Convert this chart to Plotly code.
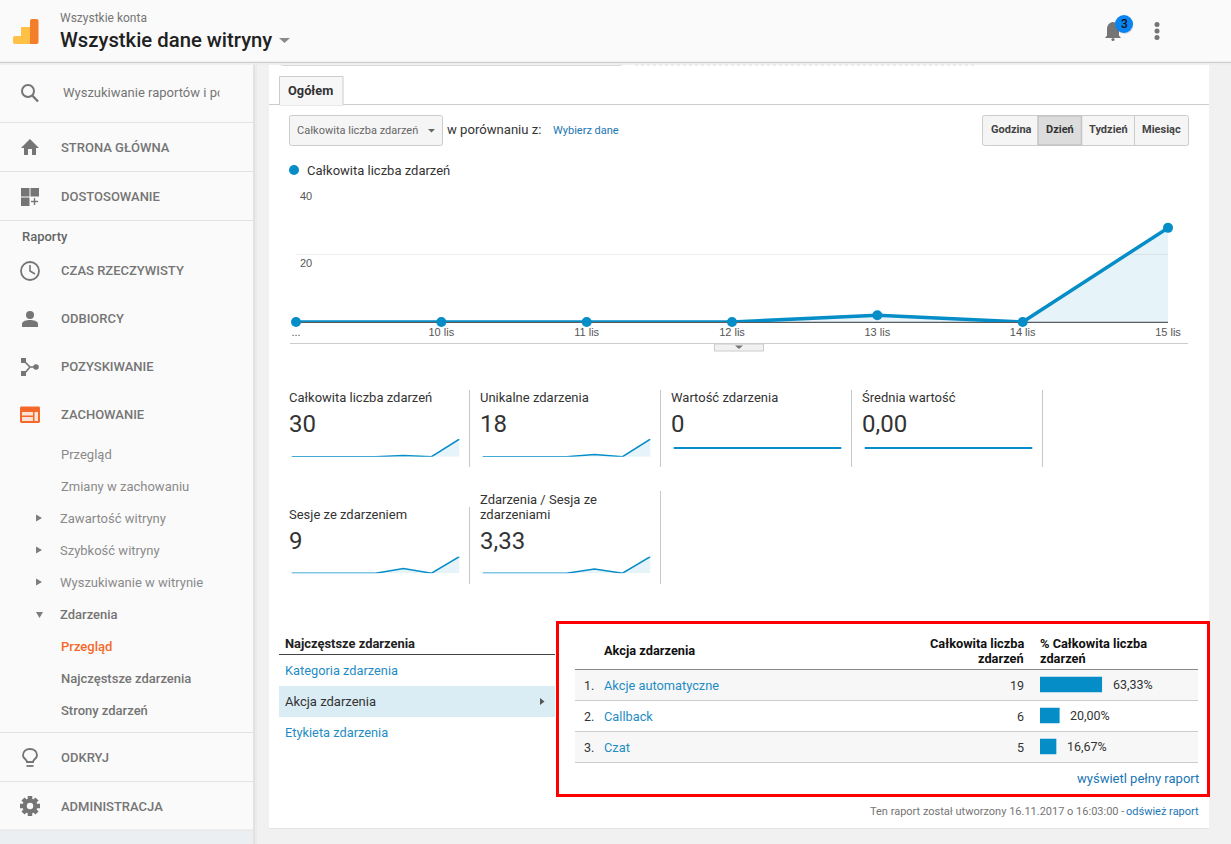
import plotly.graph_objects as go

W, H = 1231, 844

# chart data
dates = ["...", "10 lis", "11 lis", "12 lis", "13 lis", "14 lis", "15 lis"]
total_events = [0, 0, 0, 0, 2, 0, 28]
unique_events = [0, 0, 0, 0, 2, 0, 16]
event_value = [0, 0, 0, 0, 0, 0, 0]
average_value = [0, 0, 0, 0, 0, 0, 0]
sessions_with_event = [0, 0, 0, 0, 2, 0, 7]
events_per_session = [0, 0, 0, 0, 1, 0, 4]
y_ticks = [20, 40]

# table data
actions = ["Akcje automatyczne", "Callback", "Czat"]
action_counts = [19, 6, 5]
action_shares = [63.33, 20.00, 16.67]

# headline numbers
metric_names = [["Całkowita liczba zdarzeń"], ["Unikalne zdarzenia"], ["Wartość zdarzenia"], ["Średnia wartość"],
                ["Sesje ze zdarzeniem"], ["Zdarzenia / Sesja ze", "zdarzeniami"]]
metric_values = ["30", "18", "0", "0,00", "9", "3,33"]

BLUE = "#058dc7"
FILL = "rgba(5,141,199,0.10)"
LINK = "#1f8dc4"
GREY = "#757575"
ROBOTO = "Roboto, sans-serif"
ARIAL = "Liberation Sans, Arial, sans-serif"

shapes = []
annotations = []


def fx(x):
    return x / W


def fy(y):
    return 1 - y / H


def rect(x0, y0, x1, y1, fill, line=None, width=1):
    shapes.append(dict(type="rect", xref="paper", yref="paper", x0=fx(x0), x1=fx(x1), y0=fy(y0), y1=fy(y1),
                       fillcolor=fill, line=dict(color=line or "rgba(0,0,0,0)", width=width if line else 0),
                       layer="below"))


def line(x0, y0, x1, y1, color="#dddddd", width=1, dash=None):
    shapes.append(dict(type="line", xref="paper", yref="paper", x0=fx(x0), x1=fx(x1), y0=fy(y0), y1=fy(y1),
                       line=dict(color=color, width=width, dash=dash), layer="below"))


def circle(cx, cy, r, fill, line_color=None, width=0):
    shapes.append(dict(type="circle", xref="paper", yref="paper", x0=fx(cx - r), x1=fx(cx + r),
                       y0=fy(cy + r), y1=fy(cy - r), fillcolor=fill,
                       line=dict(color=line_color or "rgba(0,0,0,0)", width=width), layer="below"))


def path(d, fill="rgba(0,0,0,0)", line_color=None, width=0):
    # d is written in pixels, plotly wants paper fractions
    out = []
    is_x = True
    for tok in d.split():
        if tok.isalpha():
            out.append(tok)
        else:
            out.append(f"{fx(float(tok)):.5f}" if is_x else f"{fy(float(tok)):.5f}")
            is_x = not is_x
    shapes.append(dict(type="path", xref="paper", yref="paper", path=" ".join(out), fillcolor=fill,
                       line=dict(color=line_color or "rgba(0,0,0,0)", width=width), layer="below"))


def rrect(x0, y0, x1, y1, r, fill, line_color=None, width=0):
    path(f"M {x0+r} {y0} L {x1-r} {y0} Q {x1} {y0} {x1} {y0+r} L {x1} {y1-r} Q {x1} {y1} {x1-r} {y1} "
         f"L {x0+r} {y1} Q {x0} {y1} {x0} {y1-r} L {x0} {y0+r} Q {x0} {y0} {x0+r} {y0} Z",
         fill, line_color, width)


def label(x, y, text, size=13, color="#333333", anchor="left", weight=400, family=ROBOTO):
    annotations.append(dict(xref="paper", yref="paper", x=fx(x), y=fy(y), text=text, showarrow=False,
                            xanchor=anchor, yanchor="middle", borderpad=0, borderwidth=0, align=anchor,
                            font=dict(family=family, size=size, color=color, weight=weight)))


# backgrounds
rect(0, 0, W, H, "#f1f1f1")
rect(269, 60, 1209, 828, "#ffffff")
line(269, 828.5, 1209, 828.5, "#e4e4e4", 1)
rect(0, 0, 253, H, "#fafafa")
rect(253, 60, 255, H, "#e2e2e2")
rect(255, 60, 257, H, "#ebebeb")
rect(0, 830, 253, H, "#eceff1")
rrect(280, 58, 623, 65.5, 3, "#ffffff", "#d8d8d8", 1)
line(635, 65, 975, 65, "#d5d5d5", 1, "dot")
rect(0, 0, W, 62, "#fafafa")
line(0, 62.5, W, 62.5, "#cfcfcf", 1.5)
line(0, 64, W, 64, "#ececec", 1.5)

# header
path("M 13 38 Q 13 36 15 36 L 21 36 L 21 27 L 30 27 L 30 44 L 15 44 Q 13 44 13 42 Z", "#ffc046")
path("M 30 21 Q 30 19 32 19 L 36.5 19 Q 38.5 19 38.5 21 L 38.5 42 Q 38.5 44 36.5 44 L 30 44 Z", "#f57e2b")
label(60, 18, "Wszystkie konta", 12, GREY)
label(60, 40, "Wszystkie dane witryny", 20.3, "#212121", weight=500)
path("M 279 38 L 290 38 L 284.5 43 Z", "#8a8a8a")
path("M 1105 38 L 1107 35.5 L 1107 29 C 1107 25 1110 22 1113 22 C 1116 22 1119 25 1119 29 L 1119 35.5 L 1121 38 Z", GREY)
circle(1113, 39.5, 1.6, GREY)
circle(1124.5, 25, 9, "rgba(0,0,0,0.12)")
circle(1124, 24, 9, "#0a84f0")
label(1124, 23.5, "3", 12, "#111111", "center", 500)
for dot_y in [24.5, 31, 37.5]:
    circle(1157, dot_y, 2.5, GREY)

# sidebar
for sep_y in [122.5, 171.5, 220.5, 732.5, 781.5, 830]:
    line(0, sep_y, 253, sep_y, "#e3e3e3", 1)

circle(28, 91, 6, "rgba(0,0,0,0)", GREY, 2)
line(32.3, 95.5, 38, 101.5, GREY, 2.4)
label(63, 93, "Wyszukiwanie raportów i po", 13, GREY)
# the search box cuts its text off
annotations.append(dict(xref="paper", yref="paper", x=fx(219), y=fy(93), text=" ", showarrow=False, xanchor="left",
                        yanchor="middle", width=20, height=18, bgcolor="#fafafa", borderpad=0))

path("M 30 139 L 39 148 L 36 148 L 36 155 L 32 155 L 32 149 L 28 149 L 28 155 L 24 155 L 24 148 L 21 148 Z", GREY)
rect(21, 188, 29.5, 196.5, GREY)
rect(30.5, 188, 39, 196.5, GREY)
rect(21, 197.5, 29.5, 206, GREY)
line(31, 201.5, 38, 201.5, GREY, 1.4)
line(34.5, 198, 34.5, 205, GREY, 1.4)
circle(30, 271, 9, "rgba(0,0,0,0)", GREY, 1.8)
path("M 30 265 L 30 271 L 35 274", "rgba(0,0,0,0)", GREY, 1.6)
circle(30, 315, 4, GREY)
path("M 22 327 L 22 324 C 22 321 27 320 30 320 C 33 320 38 321 38 324 L 38 327 Z", GREY)
rect(21, 358, 26, 363, GREY)
rect(21, 371, 26, 376, GREY)
circle(36, 367, 2.8, GREY)
path("M 24 361 L 30 367 L 36 367 M 24 374 L 30 367", "rgba(0,0,0,0)", GREY, 1.7)
rrect(20, 406.5, 40, 423, 1.5, "#f4692a")
rect(22, 412, 33, 415.5, "#fbe3d6")
rect(22, 417, 33, 421, "#fbe3d6")
rect(34.5, 412, 38, 421, "#fbe3d6")
path("M 27 762 C 27 759.5 23 758.5 23 755.5 C 23 751.5 26 749 30 749 C 34 749 37 751.5 37 755.5 C 37 758.5 33 759.5 33 762 Z",
     "rgba(0,0,0,0)", GREY, 1.9)
line(26.5, 766, 33.5, 766, GREY, 1.8)
# gear: four crossed bars give the teeth
line(30, 796, 30, 816, GREY, 4.5)
line(20, 806, 40, 806, GREY, 4.5)
line(23, 799, 37, 813, GREY, 4.5)
line(23, 813, 37, 799, GREY, 4.5)
circle(30, 806, 7.5, GREY)
circle(30, 806, 3.2, "#fafafa")

for name, ty in [("STRONA GŁÓWNA", 147), ("DOSTOSOWANIE", 196), ("CZAS RZECZYWISTY", 270.5), ("ODBIORCY", 318),
                 ("POZYSKIWANIE", 366), ("ZACHOWANIE", 414), ("ODKRYJ", 757), ("ADMINISTRACJA", 806)]:
    label(61, ty, name, 13, GREY, weight=500)
label(22, 236, "Raporty", 13, "#666666", weight=500)
for name, tx, ty, col, wgt in [("Przegląd", 61, 454.5, "#8a8a8a", 400), ("Zmiany w zachowaniu", 61, 486, "#8a8a8a", 400),
                               ("Zawartość witryny", 60, 518, "#8a8a8a", 400), ("Szybkość witryny", 60, 550, "#8a8a8a", 400),
                               ("Wyszukiwanie w witrynie", 60, 582, "#8a8a8a", 400), ("Zdarzenia", 60, 614, GREY, 500),
                               ("Przegląd", 61, 646, "#f4692a", 500), ("Najczęstsze zdarzenia", 61, 678, GREY, 500),
                               ("Strony zdarzeń", 61, 710, GREY, 500)]:
    label(tx, ty, name, 13, col, weight=wgt)
for tri_y in [518, 550, 582]:
    path(f"M 36 {tri_y-3.5} L 42 {tri_y} L 36 {tri_y+3.5} Z", "#7d7d7d")
path("M 36 612 L 43 612 L 39.5 618 Z", "#7d7d7d")

# tab and controls
line(269, 104.5, 1209, 104.5, "#cccccc", 1)
rect(279.5, 76.5, 343, 105, "#f7f7f7", "#cccccc", 1)
line(280, 104.5, 342.5, 104.5, "#f7f7f7", 1.5)
label(288, 90.5, "Ogółem", 12.8, "#333333", weight=700)
rrect(289.5, 115.5, 442.5, 145.5, 2, "#f5f5f5", "#cccccc", 1)
label(297, 130.5, "Całkowita liczba zdarzeń", 11, "#666666")
path("M 428 129 L 435 129 L 431.5 132.5 Z", "#666666")
label(447, 129, "w porównaniu z:", 13.1, "#333333")
label(553, 130.5, "Wybierz dane", 11, "#1a76b4")

rrect(982.5, 115.5, 1188.5, 145.5, 2, "#f5f5f5", "#cccccc", 1)
rect(1038, 116, 1081.5, 145, "#dcdcdc", "#c4c4c4", 1.5)
for sep_x in [1134.5]:
    line(sep_x, 116, sep_x, 145, "#cccccc", 1)
for name, cx, col in [("Godzina", 1011, "#444444"), ("Dzień", 1060, "#333333"),
                      ("Tydzień", 1108, "#444444"), ("Miesiąc", 1161.5, "#444444")]:
    label(cx, 130, name, 11, col, "center", 700)

# legend
circle(294, 170, 5, BLUE)
label(307, 171, "Całkowita liczba zdarzeń", 13, "#333333")

# bottom rule of the chart and its handle
line(290, 343.5, 1188, 343.5, "#cccccc", 1)
rect(714.5, 344, 763.5, 351, "#f1f1f1", "#cccccc", 1)
path("M 735 345.5 L 743 345.5 L 739 349 Z", "#777777")

# baseline as a shape, the axis line would sit on top of the blue line
line(296, 322.3, 1168, 322.3, "#333333", 1)

fig = go.Figure()
x_idx = list(range(len(dates)))

# main line chart
fig.add_trace(go.Scatter(
    x=x_idx,
    y=total_events,
    mode="lines+markers",
    fill="tozeroy",
    fillcolor=FILL,
    line=dict(color=BLUE, width=3.5),
    marker=dict(size=10, color=BLUE),
    cliponaxis=False,
    hoverinfo="x+y",
    xaxis="x",
    yaxis="y",
))

axes = dict(
    xaxis=dict(domain=[fx(296), fx(1168)], range=[0, 6], anchor="y", tickmode="array", tickvals=x_idx,
               ticktext=dates, showgrid=False, zeroline=False, showline=False,
               ticks="", ticklabelstandoff=2,
               tickfont=dict(family=ARIAL, size=11, color="#555555"), tickangle=0, fixedrange=True),
    yaxis=dict(domain=[fy(322), fy(187.5)], range=[0, 40], anchor="x", tickmode="array", tickvals=y_ticks,
               showticklabels=False, showgrid=True, gridcolor="#eeeeee", gridwidth=1, zeroline=False,
               showline=False, fixedrange=True),
)
for tick in y_ticks:
    annotations.append(dict(xref="paper", yref="y", x=fx(298.5), y=tick, yshift=-8.5, text=str(tick), showarrow=False,
                            xanchor="left", yanchor="middle", borderpad=0,
                            font=dict(family=ARIAL, size=11, color="#555555")))

# metric tiles with sparklines
series = [total_events, unique_events, event_value, average_value, sessions_with_event, events_per_session]
tiles = [(289, 397, 424, 439, 456.7), (480, 397, 424, 439, 456.7), (671, 397, 424, 439, 457), (862, 397, 424, 439, 457),
         (289, 514, 541, 556.5, 573.2), (480, 499, 541, 556.5, 573.2)]
for i, (values, name_lines, val, (tx, name_y, val_y, top, bottom)) in enumerate(zip(series, metric_names, metric_values, tiles)):
    n = i + 2
    flat = max(values) == 0
    fig.add_trace(go.Scatter(
        x=x_idx,
        y=values,
        mode="lines",
        fill=None if flat else "tozeroy",
        fillcolor=FILL,
        line=dict(color=BLUE, width=2 if flat else 1.5),
        # clipping halves the flat stretch at the bottom, which is why it reads paler
        cliponaxis=flat is False,
        hoverinfo="y",
        xaxis=f"x{n}",
        yaxis=f"y{n}",
    ))
    axes[f"xaxis{n}"] = dict(domain=[fx(tx + 2.5), fx(tx + 170.5)], range=[0, 6], anchor=f"y{n}", visible=False, fixedrange=True)
    axes[f"yaxis{n}"] = dict(domain=[fy(bottom), fy(top)], range=[-1, 1] if flat else [0, max(values)],
                             anchor=f"x{n}", visible=False, fixedrange=True)
    for k, text in enumerate(name_lines):
        label(tx, name_y + 15 * k, text, 13, "#333333")
    label(tx, val_y, val, 24, "#333333")

for x_div in [469.5, 660.5, 851.5, 1042.5]:
    line(x_div, 390, x_div, 467, "#c8c8c8", 1)
line(469.5, 507, 469.5, 584, "#c8c8c8", 1)
line(660.5, 491, 660.5, 584, "#c8c8c8", 1)

# left list
label(285, 643.5, "Najczęstsze zdarzenia", 12.9, "#222222", weight=700)
line(279, 654.5, 555, 654.5, "#444444", 1)
label(285, 670.5, "Kategoria zdarzenia", 12.8, LINK)
rect(279, 686, 555, 717, "#daecf4")
label(285, 701.5, "Akcja zdarzenia", 13, "#333333")
path("M 540 698 L 544.5 701.5 L 540 705 Z", "#555555")
label(285, 732.5, "Etykieta zdarzenia", 12.8, LINK)

# right table
rect(575, 670, 1198, 700, "#f7f7f7")
rect(575, 732, 1198, 762, "#f7f7f7")
line(575, 669.5, 1198, 669.5, "#888888", 1)
for row_y in [700.5, 731.5, 762.5]:
    line(575, row_y, 1198, row_y, "#cccccc", 1)
label(604, 650.5, "Akcja zdarzenia", 12.8, "#111111", weight=700)
label(1024, 643.5, "Całkowita liczba", 12.8, "#111111", "right", 700)
label(1024, 658.5, "zdarzeń", 12.8, "#111111", "right", 700)
label(1040, 643.5, "% Całkowita liczba", 12.8, "#111111", "left", 700)
label(1040, 658.5, "zdarzeń", 12.8, "#111111", "left", 700)
for i, (action, count) in enumerate(zip(actions, action_counts)):
    row_y = 685.5 + 31 * i
    label(584, row_y, f"{i + 1}.", 12.5, "#333333")
    label(604, row_y, action, 12.8, LINK)
    label(1024, row_y, str(count), 12.5, "#333333", "right")

fig.add_trace(go.Bar(
    x=action_shares,
    y=actions,
    orientation="h",
    marker=dict(color="#058dc7", line=dict(width=0)),
    width=0.5,
    hoverinfo="x",
    xaxis="x8",
    yaxis="y8",
))
axes["xaxis8"] = dict(domain=[fx(1040), fx(1138)], range=[0, 100], anchor="y8", visible=False, fixedrange=True)
axes["yaxis8"] = dict(domain=[fy(762), fy(669)], type="category", categoryorder="array", categoryarray=actions,
                      autorange="reversed", anchor="x8", visible=False, fixedrange=True)
for action, share in zip(actions, action_shares):
    annotations.append(dict(xref="x8", yref="y8", x=share, y=action, xshift=9.5, showarrow=False,
                            text=f"{share:.2f}%".replace(".", ","), xanchor="left", yanchor="middle", borderpad=0,
                            font=dict(family=ROBOTO, size=12.5, color="#333333")))

label(1199, 778, "wyświetl pełny raport", 13, "#1a76b4", "right")
label(1127, 811.5, "Ten raport został utworzony 16.11.2017 o 16:03:00 - ", 11, GREY, "right")
label(1199, 811.5, "odśwież raport", 11, "#1a76b4", "right")

# red frame around the table
rect(557.5, 622.5, 1208.5, 795.5, "rgba(0,0,0,0)", "#ff0000", 3)

fig.update_layout(
    width=W,
    height=H,
    margin=dict(l=0, r=0, t=0, b=0, autoexpand=False),
    paper_bgcolor="#ffffff",
    plot_bgcolor="rgba(0,0,0,0)",
    showlegend=False,
    hovermode="closest",
    font=dict(family=ROBOTO),
    shapes=shapes,
    annotations=annotations,
    **axes,
)

fig.write_html("out.html", config=dict(displayModeBar=False),
               post_script="document.body.style.margin='0';document.body.style.overflow='hidden';")
